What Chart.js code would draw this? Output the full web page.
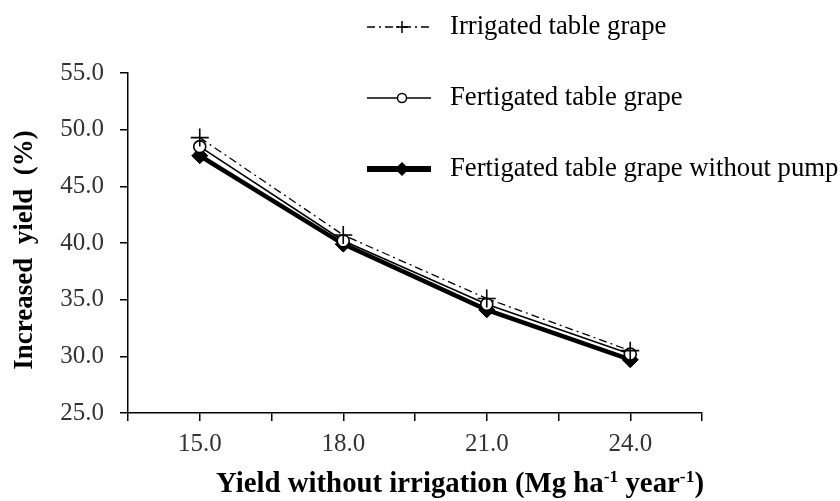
<!DOCTYPE html>
<html>
<head>
<meta charset="utf-8">
<script src="https://cdn.jsdelivr.net/npm/chart.js@4.4.1/dist/chart.umd.min.js"></script>
<style>
  html, body { margin: 0; padding: 0; background: #fff; }
  #wrap { width: 840px; height: 501px; position: relative; }
</style>
</head>
<body>
<div id="wrap"><canvas id="c" width="840" height="501"></canvas></div>
<script>
// ---- data ----
const xValues = [15, 18, 21, 24];
const xTickLabels = ['15.0', '18.0', '21.0', '24.0'];
const irrigated = [49.3, 40.7, 35.1, 30.5];
const fertigated = [48.5, 40.2, 34.6, 30.2];
const withoutPump = [47.7, 39.9, 34.1, 29.7];
const seriesNames = ['Irrigated table grape', 'Fertigated table grape', 'Fertigated table grape without pump'];
const yTitle = 'Increased  yield  (%)';

const SERIF = '"Liberation Serif", "Times New Roman", serif';
const toXY = arr => arr.map((v, i) => ({ x: xValues[i], y: v }));

const legendPlugin = {
  id: 'customLegend',
  afterDraw(chart) {
    const ctx = chart.ctx;
    const rows = [27, 98, 169];
    const x0 = 367, x1 = 431, mx = 402, tx = 450;
    const specs = [
      { w: 1.3, dash: [8, 4, 2, 4], style: 'cross', r: 6 },
      { w: 1.5, dash: [], style: 'circle', r: 4.5 },
      { w: 6, dash: [], style: 'rectRot', r: 6 }
    ];
    chart.data.datasets.forEach((ds, i) => {
      const y = rows[i], s = specs[i];
      ctx.save();
      ctx.strokeStyle = '#000';
      ctx.lineWidth = s.w;
      ctx.setLineDash(s.dash);
      ctx.beginPath(); ctx.moveTo(x0, y); ctx.lineTo(x1, y); ctx.stroke();
      ctx.setLineDash([]);
      ctx.lineWidth = 1.5;
      ctx.fillStyle = ds.pointBackgroundColor;
      Chart.helpers.drawPoint(ctx, { pointStyle: s.style, radius: s.r, borderWidth: 1.5, rotation: 0 }, mx, y);
      ctx.fillStyle = '#000';
      ctx.font = '26.7px ' + SERIF;
      ctx.textAlign = 'left';
      ctx.textBaseline = 'middle';
      ctx.fillText(ds.label, tx, y);
      ctx.restore();
    });
  }
};

const titlesPlugin = {
  id: 'axisTitles',
  afterDraw(chart) {
    const ctx = chart.ctx;
    ctx.save();
    ctx.fillStyle = '#000';
    // y title
    ctx.font = 'bold 27px ' + SERIF;
    ctx.translate(25, 250);
    ctx.rotate(-Math.PI / 2);
    ctx.textAlign = 'center';
    ctx.textBaseline = 'middle';
    ctx.fillText(yTitle, 0, 0);
    ctx.restore();

    // x title with superscripts
    ctx.save();
    ctx.fillStyle = '#000';
    const parts = [
      { t: 'Yield without irrigation (Mg ha', sup: false },
      { t: '-1', sup: true },
      { t: ' year', sup: false },
      { t: '-1', sup: true },
      { t: ')', sup: false }
    ];
    const big = 'bold 28.8px ' + SERIF, small = 'bold 17.5px ' + SERIF;
    let total = 0;
    parts.forEach(p => { ctx.font = p.sup ? small : big; total += ctx.measureText(p.t).width; });
    let x = 460 - total / 2;
    const base = 492;
    ctx.textBaseline = 'alphabetic';
    ctx.textAlign = 'left';
    parts.forEach(p => {
      ctx.font = p.sup ? small : big;
      ctx.fillText(p.t, x, p.sup ? base - 10 : base);
      x += ctx.measureText(p.t).width;
    });
    ctx.restore();
  }
};

new Chart(document.getElementById('c'), {
  type: 'line',
  data: {
    datasets: [
      {
        label: seriesNames[0], data: toXY(irrigated),
        borderColor: '#000', borderWidth: 1.3, borderDash: [8, 4, 2, 4],
        pointStyle: 'cross', pointRadius: 9, pointBorderWidth: 1.6,
        pointBorderColor: '#000', pointBackgroundColor: '#000', tension: 0
      },
      {
        label: seriesNames[1], data: toXY(fertigated),
        borderColor: '#000', borderWidth: 1.6,
        pointStyle: 'circle', pointRadius: 6, pointBorderWidth: 1.6,
        pointBorderColor: '#000', pointBackgroundColor: '#fff', tension: 0
      },
      {
        label: seriesNames[2], data: toXY(withoutPump),
        borderColor: '#000', borderWidth: 4.5,
        pointStyle: 'rectRot', pointRadius: 8, pointBorderWidth: 1,
        pointBorderColor: '#000', pointBackgroundColor: '#000', tension: 0
      }
    ]
  },
  options: {
    responsive: false,
    animation: false,
    devicePixelRatio: 1,
    layout: { padding: { top: 73, right: 138, bottom: 0, left: 0 } },
    plugins: { legend: { display: false }, tooltip: { enabled: false } },
    scales: {
      x: {
        type: 'linear', min: 13.5, max: 25.5,
        afterFit(s) { s.height = 88; s.paddingLeft = 0; s.paddingRight = 0; },
        border: { display: true, color: '#000', width: 1.5 },
        grid: { drawOnChartArea: false, drawTicks: true, tickLength: 8, color: '#000', lineWidth: 1.5 },
        ticks: {
          stepSize: 1.5, autoSkip: false, maxRotation: 0, padding: 8,
          color: '#333', font: { family: SERIF, size: 25 },
          callback: v => { const i = xValues.indexOf(v); return i >= 0 ? xTickLabels[i] : ''; }
        }
      },
      y: {
        type: 'linear', min: 25, max: 55,
        afterFit(s) { s.width = 128; s.paddingTop = 0; s.paddingBottom = 0; },
        border: { display: true, color: '#000', width: 1.5 },
        grid: { drawOnChartArea: false, drawTicks: true, tickLength: 8, color: '#000', lineWidth: 1.5 },
        ticks: {
          stepSize: 5, padding: 16,
          color: '#333', font: { family: SERIF, size: 25 },
          callback: v => v.toFixed(1)
        }
      }
    }
  },
  plugins: [legendPlugin, titlesPlugin]
});
</script>
</body>
</html>
